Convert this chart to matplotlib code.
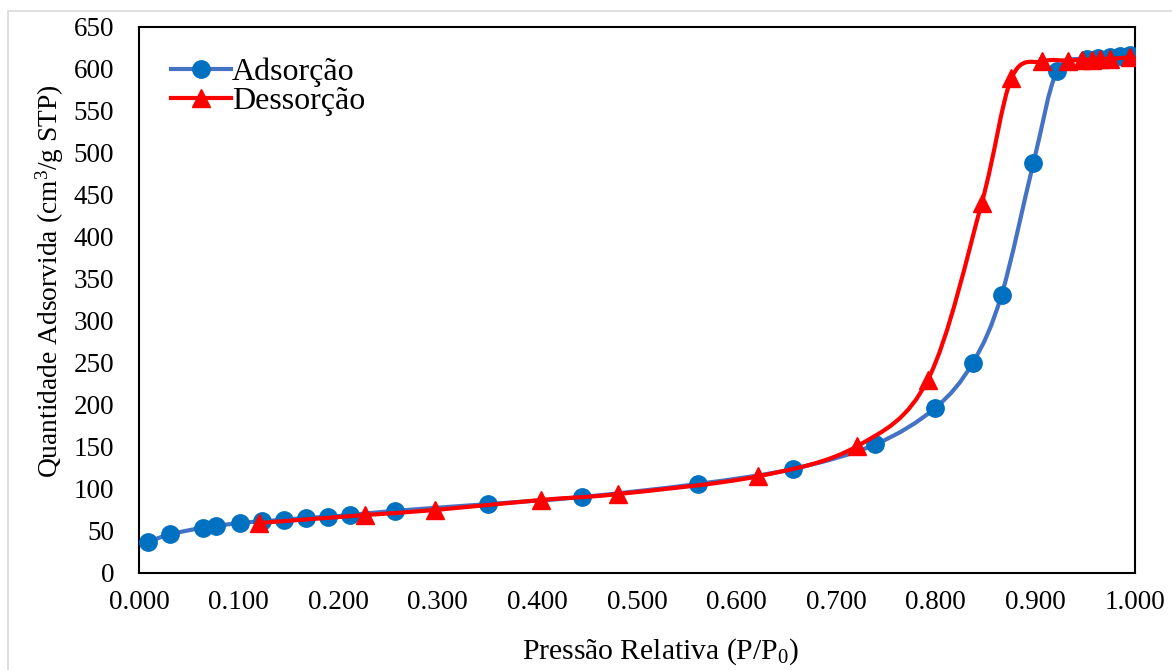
import numpy as np
import matplotlib
matplotlib.use('Agg')
import matplotlib.pyplot as plt
from matplotlib.path import Path
from matplotlib.patches import PathPatch, Rectangle
from matplotlib.lines import Line2D

# dados da isoterma
p_ads = [0.009, 0.031, 0.064, 0.077, 0.101, 0.123, 0.146, 0.168, 0.190, 0.212,
         0.257, 0.350, 0.445, 0.561, 0.657, 0.739, 0.799, 0.837, 0.866, 0.898,
         0.922, 0.952, 0.963, 0.975, 0.985, 0.995]
q_ads = [37, 46, 54, 56, 59.5, 61.5, 63.5, 65.5, 67, 69,
         74, 82, 90.5, 106, 124, 153, 196, 250, 331, 488,
         598, 612, 613, 614, 616, 617]

p_des = [0.995, 0.975, 0.965, 0.957, 0.947, 0.933, 0.907, 0.876, 0.846, 0.792,
         0.721, 0.621, 0.481, 0.404, 0.297, 0.227, 0.120]
q_des = [614, 612, 612, 611, 611, 610, 609, 589, 440, 230,
         151, 115, 94, 87, 75, 69, 59.5]

x_ticks = np.arange(0, 1.0001, 0.1)
y_ticks = np.arange(0, 651, 50)

plt.rcParams['font.family'] = ['Liberation Serif', 'DejaVu Serif']
plt.rcParams['mathtext.fontset'] = 'custom'
plt.rcParams['mathtext.rm'] = 'Liberation Serif'
plt.rcParams['mathtext.it'] = 'Liberation Serif:italic'


def curva_suave(x, y, t=1/6):
    # linha suavizada estilo Excel (Bezier cúbica tipo Catmull-Rom)
    pts = np.column_stack([x, y])
    ext = np.vstack([pts[0], pts, pts[-1]])
    verts = [pts[0]]
    codes = [Path.MOVETO]
    for i in range(len(pts) - 1):
        p0, p1, p2, p3 = ext[i], ext[i + 1], ext[i + 2], ext[i + 3]
        verts += [p1 + (p2 - p0) * t, p2 - (p3 - p1) * t, p2]
        codes += [Path.CURVE4] * 3
    return Path(verts, codes)


fig = plt.figure(figsize=(11.72, 6.70), dpi=100)
ax = fig.add_axes([139 / 1172, 1 - 573 / 670, 996 / 1172, 546 / 670])

# moldura cinza do gráfico
fig.patches.append(Rectangle((8 / 1172, -0.05), 1.1, 1 - 11 / 670 + 0.05,
                             transform=fig.transFigure, fill=False,
                             edgecolor='#D9D9D9', linewidth=1.2, zorder=0))

azul_linha = '#4472C4'
azul = '#0070C0'
vermelho = '#FF0000'

ax.add_patch(PathPatch(curva_suave(p_ads, q_ads), facecolor='none',
                       edgecolor=azul_linha, linewidth=3, zorder=2))
ax.plot(p_ads, q_ads, linestyle='none', marker='o', markersize=12.5,
        color=azul, zorder=3)

ax.add_patch(PathPatch(curva_suave(p_des, q_des), facecolor='none',
                       edgecolor=vermelho, linewidth=3, zorder=4))
ax.plot(p_des, q_des, linestyle='none', marker='^', markersize=13,
        color=vermelho, zorder=5)

ax.set_xlim(0, 1)
ax.set_ylim(0, 650)
ax.set_xticks(x_ticks)
ax.set_xticklabels([f'{v:.3f}' for v in x_ticks])
ax.set_yticks(y_ticks)
ax.set_yticklabels([f'{v:d}' for v in y_ticks])
ax.tick_params(axis='both', length=0, labelsize=19.5)
ax.tick_params(axis='y', pad=18)
ax.tick_params(axis='x', pad=12)
for s in ax.spines.values():
    s.set_linewidth(1.5)
    s.set_color('black')

fig.text(660 / 1172, 1 - 652 / 670, 'Pressão Relativa (P/P$_0$)',
         ha='center', va='center', fontsize=21.3)
fig.text(50 / 1172, 1 - 281 / 670, 'Quantidade Adsorvida (cm$^3$/g STP)',
         ha='center', va='center', rotation=90, fontsize=19.8)

handles = [Line2D([], [], color=azul_linha, linewidth=3, marker='o',
                  markersize=12.5, markerfacecolor=azul, markeredgecolor=azul),
           Line2D([], [], color=vermelho, linewidth=3, marker='^',
                  markersize=13)]
ax.legend(handles, ['Adsorção', 'Dessorção'], loc='upper left',
          bbox_to_anchor=(0.019, 0.968), frameon=False, fontsize=23,
          handlelength=1.9, handletextpad=0.02, labelspacing=0.0,
          borderaxespad=0)

fig.savefig('out.png', dpi=100)
